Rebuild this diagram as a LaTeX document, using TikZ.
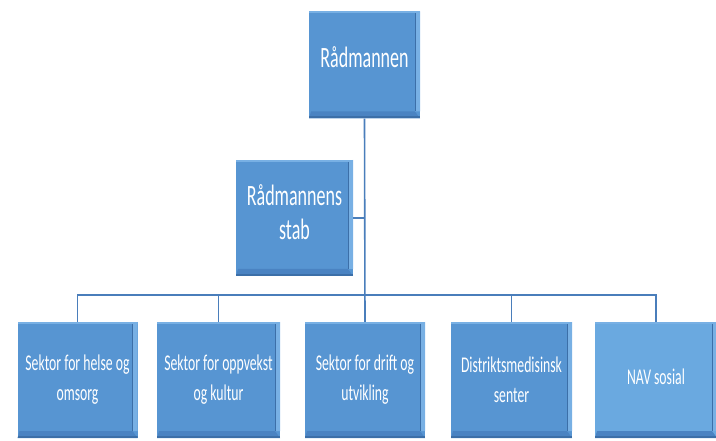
\documentclass[tikz,border=0pt]{standalone}
\usepackage{fontspec}
\setmainfont[FakeStretch=0.61]{Carlito}
\definecolor{boxblue}{HTML}{5795D2}
\definecolor{boxlight}{HTML}{6AA9E0}
\definecolor{bevdark}{HTML}{4A83C2}
\definecolor{bevline}{HTML}{3C6FA8}
\definecolor{bevlight}{HTML}{78B0E4}
\definecolor{linecol}{HTML}{4A7EBB}
\tikzset{
  box/.style={draw=none, fill=boxblue, text=white, align=center, inner sep=0pt,
    path picture={
      \fill[bevlight] (path picture bounding box.north west) rectangle ([shift={(0pt,-2pt)}]path picture bounding box.north east);
      \fill[bevlight] (path picture bounding box.north east) -- ([shift={(0pt,7pt)}]path picture bounding box.south east) -- ([shift={(-5pt,7pt)}]path picture bounding box.south east) -- ([shift={(-5pt,-2pt)}]path picture bounding box.north east) -- cycle;
      \draw[bevline, line width=0.6pt] ([shift={(-5pt,-2pt)}]path picture bounding box.north east) -- ([shift={(-5pt,7pt)}]path picture bounding box.south east);
      \fill[bevdark] (path picture bounding box.south west) -- (path picture bounding box.south east) -- ([shift={(-5pt,7pt)}]path picture bounding box.south east) -- ([shift={(2pt,7pt)}]path picture bounding box.south west) -- cycle;
      \fill[bevline] (path picture bounding box.south west) rectangle ([shift={(0pt,2pt)}]path picture bounding box.south east);
    }},
  bigtxt/.style={font=\fontsize{29.5}{34}\selectfont},
  smalltxt/.style={font=\fontsize{22.5}{30}\selectfont},
  conn/.style={draw=linecol, line width=1.6pt},
}
\begin{document}
\begin{tikzpicture}[x=1pt,y=-1pt]
\useasboundingbox (0,0) rectangle (716,441);
\node[box, bigtxt, text depth=16pt, minimum width=111pt, minimum height=107pt] (top) at (364.5,65) {Rådmannen};
\node[box, bigtxt, text depth=12pt, minimum width=117pt, minimum height=116pt] (stab) at (294.5,218) {Rådmannens\\stab};
\node[box, smalltxt, minimum width=120pt, minimum height=116pt] (b1) at (77.5,380) {Sektor for helse og\\omsorg};
\node[box, smalltxt, minimum width=123pt, minimum height=116pt] (b2) at (218.5,380) {Sektor for oppvekst\\og kultur};
\node[box, smalltxt, minimum width=120pt, minimum height=116pt] (b3) at (365,380) {Sektor for drift og\\utvikling};
\node[box, smalltxt, minimum width=121pt, minimum height=116pt] (b4) at (511.5,380) {Distriktsmedisinsk\\senter};
\node[box, smalltxt, fill=boxlight, text depth=6pt, minimum width=122pt, minimum height=116pt] (b5) at (656,380) {NAV sosial};
\coordinate (bus) at (0,295);
\draw[conn] (top.south) -- (b3.north);
\draw[conn] (stab.east) -- (stab.east -| top.south);
\draw[conn] (b1.north) -- (b1.north |- bus) -- (b5.north |- bus) -- (b5.north);
\draw[conn] (b2.north) -- (b2.north |- bus);
\draw[conn] (b4.north) -- (b4.north |- bus);
\end{tikzpicture}
\end{document}
